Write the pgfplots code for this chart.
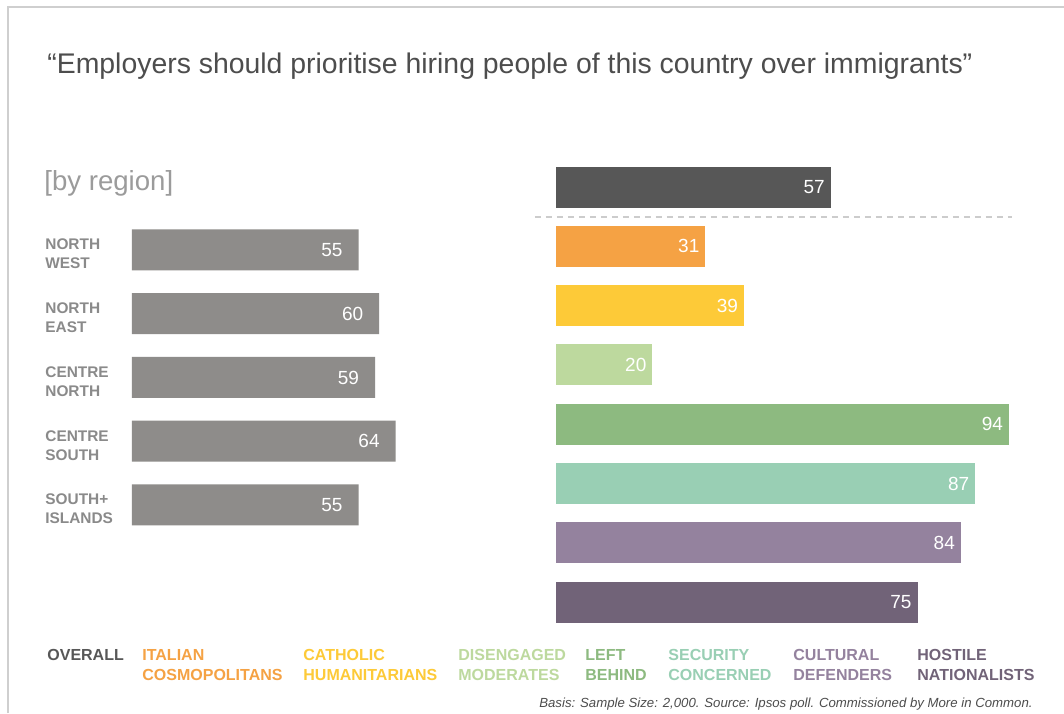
\documentclass[border=0pt]{standalone}
\usepackage{fontspec}
\setmainfont{Liberation Sans}
\usepackage{pgfplots}
\pgfplotsset{compat=1.18}
\definecolor{regiongray}{HTML}{8E8C8A}
\definecolor{labelgray}{HTML}{8A8A8A}
\definecolor{overall}{HTML}{575757}
\definecolor{cosmo}{HTML}{F5A244}
\definecolor{cath}{HTML}{FDCA38}
\definecolor{diseng}{HTML}{BDD99E}
\definecolor{leftb}{HTML}{8DBA80}
\definecolor{secur}{HTML}{99CFB4}
\definecolor{cult}{HTML}{94829E}
\definecolor{hostile}{HTML}{716378}
\definecolor{framegray}{HTML}{CFCFCF}
\definecolor{dashgray}{HTML}{CCCCCC}
\definecolor{titlegray}{HTML}{4D4D4D}
\definecolor{subgray}{HTML}{9B9B9B}
\begin{document}
\begin{tikzpicture}
\useasboundingbox[fill=white] (0,0) rectangle (532pt,356.5pt);
\draw[framegray, line width=0.8pt] (4pt,0) -- (4pt,353pt) -- (532pt,353pt);
% title
\node[anchor=base west, inner sep=0pt, text=titlegray, font=\fontsize{14.2pt}{17pt}\selectfont] at (23.5pt,319.5pt) {“Employers should prioritise hiring people of this country over immigrants”};
\node[anchor=base west, inner sep=0pt, text=subgray, font=\fontsize{13.8pt}{16pt}\selectfont] at (22pt,261pt) {[by region]};
% left axis
\begin{axis}[
  at={(66pt,247.45pt)}, anchor=north west,
  scale only axis, width=206pt, height=159.375pt,
  xmin=0, xmax=100, ymin=-0.5, ymax=4.5, y dir=reverse,
  hide x axis,
  axis y line*=left, y axis line style={draw=none},
  ytick={0,1,2,3,4},
  yticklabels={{NORTH\\WEST},{NORTH\\EAST},{CENTRE\\NORTH},{CENTRE\\SOUTH},{SOUTH+\\ISLANDS}},
  major tick length=0pt,
  yticklabel style={align=left, anchor=west, inner sep=0pt, xshift=-43.5pt, yshift=-2pt, font=\bfseries\fontsize{7.7pt}{9.5pt}\selectfont, text=labelgray},
  xbar, bar width=20.5pt,
  nodes near coords,
  nodes near coords style={anchor=east, xshift=-4.5pt, text=white, font=\fontsize{9.5pt}{11pt}\selectfont},
  /pgf/number format/assume math mode=true,
  clip=false,
]
\addplot[fill=regiongray, draw=none, bar shift=0pt] coordinates {(55,0) (60,1) (59,2) (64,3) (55,4)};
\end{axis}
% right axis
\begin{axis}[
  at={(278pt,277.8pt)}, anchor=north west,
  scale only axis, width=241pt, height=237.2pt,
  xmin=0, xmax=100, ymin=-0.5, ymax=7.5, y dir=reverse,
  hide axis, clip=false,
  point meta=x,
  nodes near coords,
  nodes near coords style={anchor=east, xshift=0.5pt, text=white, font=\fontsize{9.5pt}{11pt}\selectfont},
  /pgf/number format/assume math mode=true,
  every axis plot/.append style={xbar, bar width=20.5pt, bar shift=0pt, draw=none},
]
\addplot[fill=overall] coordinates {(57,0)};
\addplot[fill=cosmo] coordinates {(31,1)};
\addplot[fill=cath] coordinates {(39,2)};
\addplot[fill=diseng] coordinates {(20,3)};
\addplot[fill=leftb] coordinates {(94,4)};
\addplot[fill=secur] coordinates {(87,5)};
\addplot[fill=cult] coordinates {(84,6)};
\addplot[fill=hostile] coordinates {(75,7)};
\draw[dashgray, line width=1pt, dash pattern=on 3pt off 2.5pt] (axis cs:-4.4,0.5) -- (axis cs:94.6,0.5);
\end{axis}
% category legend
\begin{scope}[every node/.style={anchor=north west, inner sep=0pt, align=left, font=\bfseries\fontsize{8pt}{10pt}\selectfont}]
\node[text=overall] at (23.5pt,32pt) {OVERALL};
\node[text=cosmo] at (71pt,32pt) {ITALIAN\\COSMOPOLITANS};
\node[text=cath] at (151.5pt,32pt) {CATHOLIC\\HUMANITARIANS};
\node[text=diseng] at (229pt,32pt) {DISENGAGED\\MODERATES};
\node[text=leftb] at (292.5pt,32pt) {LEFT\\BEHIND};
\node[text=secur] at (334pt,32pt) {SECURITY\\CONCERNED};
\node[text=cult] at (396.5pt,32pt) {CULTURAL\\DEFENDERS};
\node[text=hostile] at (458.5pt,32pt) {HOSTILE\\NATIONALISTS};
\end{scope}
\node[anchor=base east, inner sep=0pt, text=titlegray, font=\itshape\fontsize{6.6pt}{7.5pt}\selectfont] at (516.5pt,3pt) {Basis: Sample Size: 2,000. Source: Ipsos poll. Commissioned by More in Common.};
\end{tikzpicture}
\end{document}
